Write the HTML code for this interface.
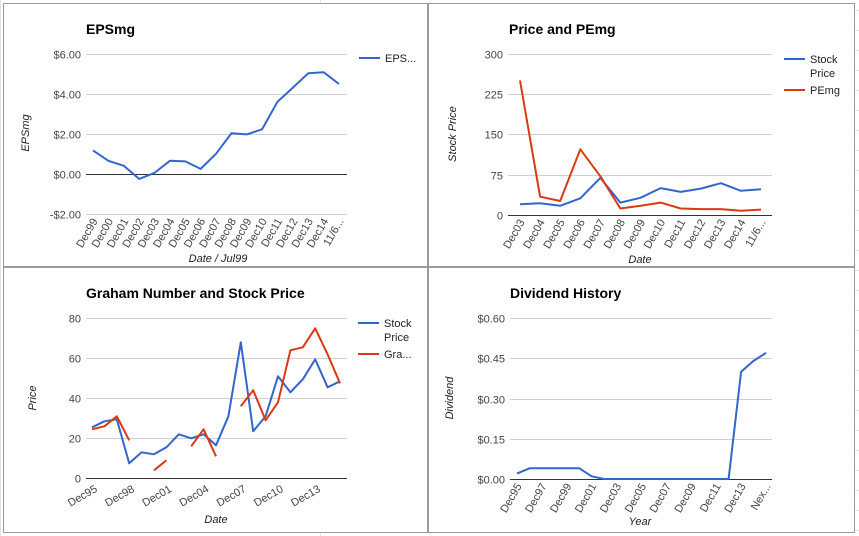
<!DOCTYPE html>
<html><head><meta charset="utf-8"><style>
html,body{margin:0;padding:0;background:#fff;}
svg{display:block;font-family:"Liberation Sans",Arial,sans-serif;}
.tick{font-size:11px;fill:#444;}
.title{font-size:14px;font-weight:bold;fill:#000;}
.axt{font-size:11px;fill:#222;font-style:italic;}
.leg{font-size:11px;fill:#222;}
</style></head><body>
<svg id="root" width="859" height="536" viewBox="0 0 859 536" xmlns="http://www.w3.org/2000/svg">
<g id="bggrid"></g>
<rect x="3.5" y="3.5" width="424" height="263" fill="#fff" stroke="#9a9a9a"/>
<rect x="428.5" y="3.5" width="426" height="263" fill="#fff" stroke="#9a9a9a"/>
<rect x="3.5" y="267.5" width="424" height="265" fill="#fff" stroke="#9a9a9a"/>
<rect x="428.5" y="267.5" width="426" height="265" fill="#fff" stroke="#9a9a9a"/>
<g id="charts"></g>
</svg>
<script>
// ---- data ----
const epsLabels = ["Dec99","Dec00","Dec01","Dec02","Dec03","Dec04","Dec05","Dec06","Dec07","Dec08","Dec09","Dec10","Dec11","Dec12","Dec13","Dec14","11/6..."];
const epsValues = [1.17,0.65,0.4,-0.25,0.05,0.65,0.62,0.25,1.0,2.02,1.97,2.22,3.6,4.3,5.02,5.07,4.48];
const epsTicks = [-2,0,2,4,6];
const epsTickLabels = ["-$2.00","$0.00","$2.00","$4.00","$6.00"];

const pxLabels = ["Dec03","Dec04","Dec05","Dec06","Dec07","Dec08","Dec09","Dec10","Dec11","Dec12","Dec13","Dec14","11/6..."];
const pxStock = [20,22,17,31,69,23,32,50,43,49,59,45,48];
const pxPE = [250,34,26,122,72,12,17,23,12,11,11,8,10];
const pxTicks = [0,75,150,225,300];

const grLabels = ["Dec95","","","Dec98","","","Dec01","","","Dec04","","","Dec07","","","Dec10","","","Dec13","",""];
const grStock = [25.5,28.5,29.5,7.5,13,12,15.5,22,20,22,16.5,31,68,23.5,31,51,43,49.5,59.5,45.5,48.5];
const grGraham = [24.5,26,31,19,null,4,9,null,16,24.5,11,null,36,44,29,38,64,65.5,75,62,47.5];
const grTicks = [0,20,40,60,80];

const dvLabels = ["Dec95","","Dec97","","Dec99","","Dec01","","Dec03","","Dec05","","Dec07","","Dec09","","Dec11","","Dec13","","Nex..."];
const dvValues = [0.02,0.04,0.04,0.04,0.04,0.04,0.01,0,0,0,0,0,0,0,0,0,0,0,0.40,0.44,0.47];
const dvTicks = [0,0.15,0.30,0.45,0.60];
const dvTickLabels = ["$0.00","$0.15","$0.30","$0.45","$0.60"];

const NS="http://www.w3.org/2000/svg";
const root=document.getElementById('charts');
function mk(tag,attrs,parent,txt){const e=document.createElementNS(NS,tag);for(const k in attrs)e.setAttribute(k,attrs[k]);if(txt!==undefined)e.textContent=txt;(parent||root).appendChild(e);return e;}

// background spreadsheet grid
const bg=document.getElementById('bggrid');
[0,320,430,1035].forEach(x=>{const l=mk('line',{x1:x+.5,y1:0,x2:x+.5,y2:536,stroke:'#e2e2e2'},bg);});
for(let y=10;y<536;y+=20){mk('line',{x1:855,y1:y+.5,x2:859,y2:y+.5,stroke:'#e2e2e2'},bg);}

function chart(o){
  const g=mk('g',{});
  
  
  const n=o.labels.length;
  const xs=i=>o.x0+(o.x1-o.x0)*i/(n-1);
  const ys=v=>o.yB+(o.yT-o.yB)*(v-o.ymin)/(o.ymax-o.ymin);
  const t=mk('text',{x:o.tx,y:o.ty,class:'title'},g,o.title);
  
  
  o.ticks.forEach((v,i)=>{
    const y=Math.round(ys(v))+.5;
    const gl=mk('line',{x1:o.gx0,x2:o.gx1,y1:y,y2:y,stroke:v===o.axisAt?'#333':'#d0d0d0','stroke-width':1},g);
    
    
    const tl=mk('text',{x:o.gx0-5,y:y+4,class:'tick','text-anchor':'end'},g,o.tickLabels?o.tickLabels[i]:String(v));
    
    
  });
  o.labels.forEach((lb,i)=>{
    if(!lb)return;
    const x=xs(i)+o.lx, y=o.yAxisY+o.ly;
    const tl=mk('text',{x:x,y:y,class:'tick','text-anchor':'end',transform:`rotate(${o.rot} ${x} ${y})`},g,lb);
    
    
  });
  o.series.forEach(s=>{
    let d='',pen=false;
    s.values.forEach((v,i)=>{if(v===null){pen=false;return;}d+=(pen?'L':'M')+xs(i).toFixed(1)+' '+ys(v).toFixed(1);pen=true;});
    const p=mk('path',{d:d,fill:'none',stroke:s.color,'stroke-width':2,'stroke-linejoin':'round'},g);
    
    
  });
  const yt=mk('text',{x:o.ytx,y:o.yty,class:'axt','text-anchor':'middle',transform:`rotate(-90 ${o.ytx} ${o.yty})`},g,o.ytitle);
  
  
  const xt=mk('text',{x:o.xtx,y:o.xty,class:'axt','text-anchor':'middle'},g,o.xtitle);
  
  
  o.legend.forEach(L=>{
    const lg=mk('g',{},g);
    
    
    mk('line',{x1:L.x,x2:L.x+21,y1:L.y,y2:L.y,stroke:L.color,'stroke-width':2},lg);
    L.text.forEach((tx,k)=>mk('text',{x:L.x+26,y:L.y+4+k*14,class:'leg'},lg,tx));
  });
}

chart({name:'eps-chart',title:'EPSmg',tx:86,ty:34,labels:epsLabels,x0:93,x1:339,gx0:86,gx1:347,
  yT:53.5,yB:214,ymin:-2,ymax:6,ticks:epsTicks,tickLabels:epsTickLabels,axisAt:0,
  yAxisY:214,lx:5,ly:7,rot:-60,
  series:[{name:'eps-line',values:epsValues,color:'#3366cc'}],
  ytx:29,yty:133,ytitle:'EPSmg',xtx:218,xty:262,xtitle:'Date / Jul99',
  legend:[{x:359,y:58,color:'#3366cc',text:['EPS...']}]});

chart({name:'price-pe-chart',title:'Price and PEmg',tx:509,ty:34,labels:pxLabels,x0:520,x1:761,gx0:508,gx1:772,
  yT:53.5,yB:215,ymin:0,ymax:300,ticks:pxTicks,axisAt:0,
  yAxisY:215,lx:5,ly:7,rot:-60,
  series:[{name:'stock-price-line',values:pxStock,color:'#3366cc'},{name:'pemg-line',values:pxPE,color:'#dc3912'}],
  ytx:456,yty:134,ytitle:'Stock Price',xtx:640,xty:263,xtitle:'Date',
  legend:[{x:784,y:59,color:'#3366cc',text:['Stock','Price']},{x:784,y:90,color:'#dc3912',text:['PEmg']}]});

chart({name:'graham-chart',title:'Graham Number and Stock Price',tx:86,ty:298,labels:grLabels,x0:92,x1:340,gx0:86,gx1:347,
  yT:318.3,yB:478.3,ymin:0,ymax:80,ticks:grTicks,axisAt:0,
  yAxisY:478,lx:6,ly:13,rot:-30,
  series:[{name:'stock-price-line',values:grStock,color:'#3366cc'},{name:'graham-number-line',values:grGraham,color:'#dc3912'}],
  ytx:36,yty:398,ytitle:'Price',xtx:216,xty:523,xtitle:'Date',
  legend:[{x:358,y:323,color:'#3366cc',text:['Stock','Price']},{x:358,y:354,color:'#dc3912',text:['Gra...']}]});

chart({name:'dividend-chart',title:'Dividend History',tx:510,ty:298,labels:dvLabels,x0:517,x1:766,gx0:510,gx1:772,
  yT:318,yB:479,ymin:0,ymax:0.6,ticks:dvTicks,tickLabels:dvTickLabels,axisAt:0,
  yAxisY:479,lx:5,ly:7,rot:-60,
  series:[{name:'dividend-line',values:dvValues,color:'#3366cc'}],
  ytx:453,yty:398,ytitle:'Dividend',xtx:640,xty:525,xtitle:'Year',
  legend:[]});
</script>
</body></html>
